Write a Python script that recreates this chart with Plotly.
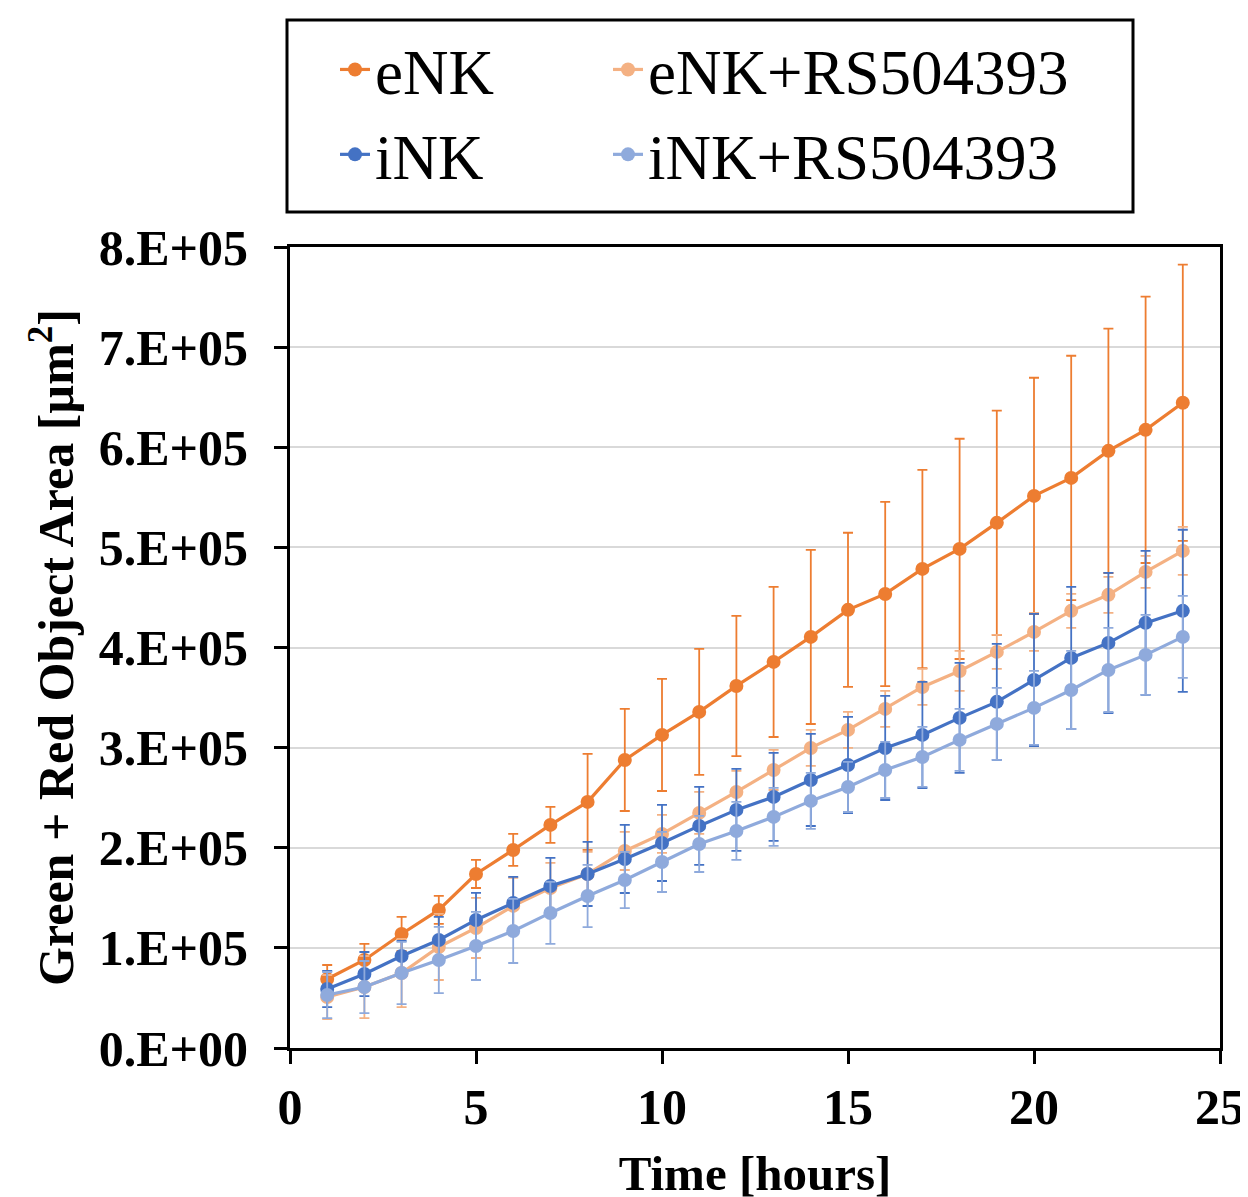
import plotly.graph_objects as go

hours = list(range(1, 25))

enk = [68900, 87900, 113900, 137900, 173800, 197800, 222800, 245800, 287700, 312700, 335700, 361600,
       385600, 410600, 437600, 453500, 478500, 498500, 524500, 551400, 569400, 596400, 617400, 644400]
enk_err = [14000, 16000, 17000, 14000, 14000, 16000, 18000, 48000, 51000, 56000, 63000, 70000,
           75000, 87000, 77000, 92000, 99000, 110000, 112000, 118000, 122000, 122000, 133000, 138000]

enk_rs = [50900, 60900, 74900, 100900, 119900, 141900, 159800, 173800, 196800, 213800, 234800, 255700,
          277700, 299700, 317700, 338700, 360600, 376600, 395600, 415600, 436600, 452600, 475500, 496500]
enk_rs_err = [22000, 31000, 34000, 33000, 30000, 28000, 25000, 22000, 19000, 19000, 21000, 21000,
              20000, 18000, 18000, 18000, 18000, 20000, 17000, 19000, 17000, 18000, 16000, 24000]

ink = [58900, 73900, 91900, 107900, 127900, 144900, 161800, 173800, 188800, 204800, 221800, 237800,
       250800, 267700, 282700, 299700, 312700, 329700, 345700, 367600, 389600, 404600, 424600, 436600]
ink_err = [18000, 22000, 15000, 23000, 27000, 26000, 28000, 32000, 34000, 38000, 39000, 41000,
           44000, 46000, 48000, 52000, 53000, 55000, 58000, 66000, 71000, 70000, 72000, 81000]

ink_rs = [52900, 60900, 74900, 87900, 101900, 116900, 134900, 151800, 167800, 185800, 203800, 216800,
          230800, 246800, 260700, 277700, 290700, 307700, 323700, 339700, 357600, 377600, 392600, 410600]
ink_rs_err = [23000, 26000, 31000, 33000, 34000, 32000, 31000, 31000, 28000, 30000, 28000, 29000,
              29000, 28000, 25000, 28000, 30000, 31000, 36000, 37000, 39000, 42000, 40000, 41000]

series_names = ["eNK", "eNK+RS504393", "iNK", "iNK+RS504393"]
series_vals = [enk, enk_rs, ink, ink_rs]
series_errs = [enk_err, enk_rs_err, ink_err, ink_rs_err]
series_colors = ["#ED7D31", "#F4B183", "#4472C4", "#8FAADC"]
series_legend = ["legend", "legend2", "legend", "legend2"]

y_tick_vals = [0, 100000, 200000, 300000, 400000, 500000, 600000, 700000, 800000]
y_tick_text = ["0.E+00", "1.E+05", "2.E+05", "3.E+05", "4.E+05", "5.E+05", "6.E+05", "7.E+05", "8.E+05"]
x_tick_vals = [0, 5, 10, 15, 20, 25]

FONT = "Liberation Serif"

fig = go.Figure()
for name, vals, errs, col, lg in zip(series_names, series_vals, series_errs, series_colors, series_legend):
    fig.add_trace(go.Scatter(
        x=hours, y=vals, name=name, mode="lines+markers",
        line=dict(color=col, width=3.2),
        marker=dict(color=col, size=14),
        error_y=dict(type="data", array=errs, visible=True, color=col, thickness=1.8, width=5),
        legend=lg,
    ))

# the page body adds an 8px offset; compensate so the plot lands where the reference has it
OFF = 8
W, H = 1248, 1197
ml, mr, mt, mb = 290 - OFF, 28 + OFF, 247 - OFF, 149 + OFF
pw = W - ml - mr
ph = H - mt - mb

def px_to_paper_x(px):
    return (px - OFF - ml) / pw

def px_to_paper_y(py):
    return (H - mb - (py - OFF)) / ph

legend_font = dict(family=FONT, size=63, color="black")

fig.update_layout(
    width=W, height=H,
    margin=dict(l=ml, r=mr, t=mt, b=mb, autoexpand=False),
    paper_bgcolor="white", plot_bgcolor="white",
    showlegend=True,
    legend=dict(x=px_to_paper_x(335), y=px_to_paper_y(22), xanchor="left", yanchor="top",
                orientation="v", font=legend_font, bgcolor="rgba(0,0,0,0)", borderwidth=0,
                tracegroupgap=0),
    legend2=dict(x=px_to_paper_x(608), y=px_to_paper_y(22), xanchor="left", yanchor="top",
                 orientation="v", font=legend_font, bgcolor="rgba(0,0,0,0)", borderwidth=0,
                 tracegroupgap=0),
    shapes=[dict(type="rect", xref="paper", yref="paper",
                 x0=px_to_paper_x(287), x1=px_to_paper_x(1133),
                 y0=px_to_paper_y(212), y1=px_to_paper_y(20),
                 line=dict(color="black", width=3), fillcolor="rgba(0,0,0,0)", layer="above")],
)

fig.update_xaxes(
    range=[0, 25], tickvals=x_tick_vals, ticks="outside", ticklen=13, tickwidth=3, tickcolor="black",
    showline=True, linecolor="black", linewidth=3, mirror=True, showgrid=False, zeroline=False,
    automargin=False, ticklabeloverflow="allow",
    tickfont=dict(family=FONT, size=50, color="black", weight="bold"),
    title=dict(text="Time [hours]", font=dict(family=FONT, size=49, color="black", weight="bold"), standoff=22),
)
fig.update_yaxes(
    range=[0, 800000], tickvals=y_tick_vals, ticktext=y_tick_text, ticks="outside", ticklen=13, tickwidth=3,
    tickcolor="black", showline=True, linecolor="black", linewidth=3, mirror=True,
    showgrid=True, gridcolor="#D9D9D9", gridwidth=1.5, zeroline=False,
    automargin=False, ticklabelstandoff=16,
    tickfont=dict(family=FONT, size=50, color="black", weight="bold"),
    title=dict(text="Green + Red Object Area [µm<sup>2</sup>]",
               font=dict(family=FONT, size=50, color="black", weight="bold"), standoff=10),
)

fig.write_html("out.html")
